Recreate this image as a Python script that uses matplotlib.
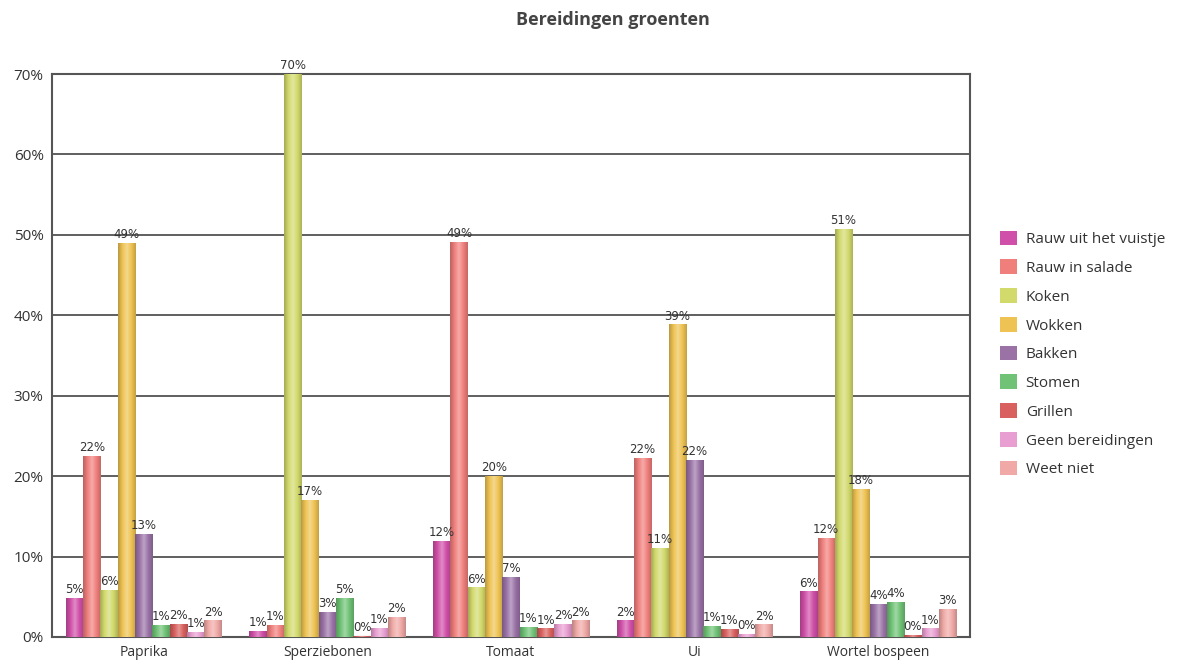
import numpy as np
import matplotlib
matplotlib.use("Agg")
import matplotlib.pyplot as plt
from matplotlib.colors import LinearSegmentedColormap, to_rgb

# Data (percentages)
categories = ["Paprika", "Sperziebonen", "Tomaat", "Ui", "Wortel bospeen"]
series = ["Rauw uit het vuistje", "Rauw in salade", "Koken", "Wokken", "Bakken",
          "Stomen", "Grillen", "Geen bereidingen", "Weet niet"]
values = {
    "Rauw uit het vuistje": [4.8, 0.7, 11.9, 2.0, 5.6],
    "Rauw in salade":       [22.4, 1.4, 49.1, 22.2, 12.2],
    "Koken":                [5.8, 70.0, 6.1, 11.0, 50.7],
    "Wokken":               [48.9, 17.0, 20.0, 38.8, 18.3],
    "Bakken":               [12.8, 3.1, 7.4, 22.0, 4.1],
    "Stomen":               [1.4, 4.8, 1.2, 1.3, 4.3],
    "Grillen":              [1.6, 0.1, 1.0, 0.9, 0.2],
    "Geen bereidingen":     [0.6, 1.1, 1.6, 0.3, 1.0],
    "Weet niet":            [2.0, 2.4, 2.0, 1.5, 3.4],
}
colors = ["#d04fa8", "#f07f7c", "#d2da6c", "#efc353", "#9a72a6",
          "#6fc276", "#d8605e", "#e89ed0", "#f0a9a6"]

plt.rcParams['font.family'] = ['Open Sans', 'DejaVu Sans']
text_col = "#333333"

fig = plt.figure(figsize=(12.02, 6.66), dpi=100)
ax = fig.add_axes([52 / 1202, 1 - 637 / 666, (970 - 52) / 1202, (637 - 74) / 666])

n = len(series)
bw = 0.85 / n
x = np.arange(len(categories))


def shade_cmap(c):
    r = np.array(to_rgb(c))
    dark = r * 0.78
    light = np.clip(r + (1 - r) * 0.35, 0, 1)
    return LinearSegmentedColormap.from_list("s", [dark, r, light, r, dark * 1.05])


grad = np.linspace(0, 1, 64).reshape(1, -1)
for i, s in enumerate(series):
    cmap = shade_cmap(colors[i])
    for j, v in enumerate(values[s]):
        left = x[j] - 0.425 + i * bw
        ax.imshow(grad, cmap=cmap, aspect='auto', extent=(left, left + bw, 0, v),
                  interpolation='bilinear', zorder=3)
        ax.text(left + bw / 2, v + 0.3, f"{round(v)}%", ha='center', va='bottom',
                fontsize=8.5, color=text_col, family='DejaVu Sans', zorder=4)
    # legend proxy
    ax.bar([np.nan], [np.nan], color=colors[i], label=s)

ax.set_xlim(-0.5, len(categories) - 0.5)
ax.set_ylim(0, 70)
ax.set_yticks(np.arange(0, 71, 10))
ax.set_yticklabels([f"{t}%" for t in range(0, 71, 10)], fontsize=11, color=text_col)
ax.set_xticks(x)
ax.set_xticklabels(categories, fontsize=10, color=text_col)
ax.tick_params(length=0, pad=6)
ax.yaxis.grid(True, color="#444444", linewidth=1.2, zorder=1)
ax.set_axisbelow(True)
for sp in ax.spines.values():
    sp.set_color("#555555")
    sp.set_linewidth(1.5)

fig.text(613 / 1202, 1 - 20 / 666, "Bereidingen groenten", ha='center', va='center',
         fontsize=13, fontweight='bold', color="#444444")

leg = fig.legend(loc='upper left', bbox_to_anchor=(986 / 1202, 1 - 217 / 666),
                 frameon=False, fontsize=11, handlelength=1.1, handleheight=1.1,
                 labelspacing=0.8, handletextpad=0.6)
for t in leg.get_texts():
    t.set_color(text_col)

fig.savefig("out.png", dpi=100)
